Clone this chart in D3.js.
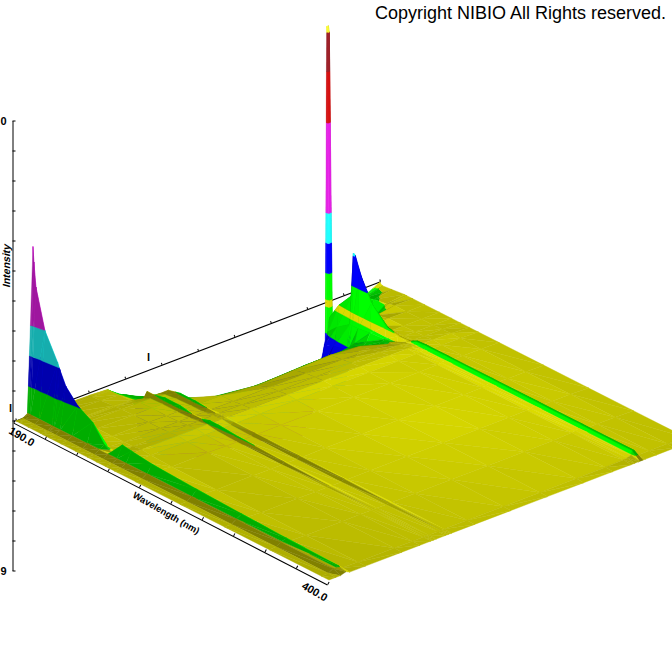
<!DOCTYPE html>
<html>
<head>
<meta charset="utf-8">
<title>Wavelength chromatogram</title>
<script src="https://cdn.jsdelivr.net/npm/d3@7"></script>
<style>
html, body { margin: 0; padding: 0; background: #fff; }
svg { display: block; }
text { font-family: "Liberation Sans", Arial, sans-serif; fill: #000; }
.axis path, .axis line { stroke: #000; stroke-width: 1; fill: none; }
.small { font-size: 11px; font-weight: bold; }
</style>
</head>
<body>
<div id="chart"></div>
<script>
// values
var wavelengths = [190, 190.6, 192, 198, 206.5, 208, 212, 220, 230, 238, 244, 250, 256, 270, 300, 330, 360, 395, 400];
var times = [0, 1.1, 1.9, 2.8, 3.4, 6, 12, 15, 16.8, 17.2, 17.7, 19.2, 19.7, 20.2, 24, 30, 36, 42, 46.8, 49.8, 50.4, 51, 51.2, 51.5, 51.7, 52.2, 54, 57, 60];
var intensity = [
  [0, 0, 0, 0, 0, 0, 0, 0, 0, 0, 0, 0, 0, 0, 0, 0, 0, 0, 0],
  [.001, .001, .001, .001, .001, .001, .001, .001, .001, .001, .001, .001, .001, .001, .001, .001, .001, .001, 0],
  [.011, .011, .011, .011, .011, .011, .011, .011, .011, .011, .011, .011, .011, .011, .011, .011, .011, .011, 0],
  [.56, .51, .43, .30, .215, .195, .15, .105, .075, .02, .005, .05, .045, .036, .028, .022, .017, .013, .006],
  [-.01, -.01, -.005, 0, .005, .006, .008, .01, .01, .008, .003, .009, .009, .008, .006, .005, .004, .002, 0],
  [-.005, -.005, -.003, 0, .002, .002, .003, .004, .005, .005, .006, .01, .006, .003, .002, .002, .002, .001, 0],
  [-.008, -.008, -.007, -.004, 0, 0, .002, .003, .004, .004, .006, .01, .005, .004, .003, .002, .001, .001, 0],
  [-.011, -.011, -.011, -.01, -.006, -.004, .001, .003, .003, .004, .006, .01, .005, .003, .002, .002, .002, .001, 0],
  [-.04, -.04, -.04, -.03, -.02, -.01, 0, .002, .002, .003, .006, .01, .005, .002, .002, .002, .002, .001, 0],
  [-.045, -.045, -.04, -.03, -.01, .011, .011, .02, .02, .012, .011, .02, .02, .014, .008, .004, .002, .001, 0],
  [-.05, -.05, -.045, -.035, -.02, -.01, 0, .002, .002, .003, .006, .01, .005, .002, .002, .002, .002, .001, 0],
  [-.08, -.08, -.07, -.05, -.025, -.012, -.005, 0, .002, .003, .007, .01, .005, .003, .002, .002, .002, .001, 0],
  [-.11, -.11, -.09, -.06, -.03, -.02, .006, .016, .016, .012, .009, .011, .01, .01, .009, .008, .005, .001, 0],
  [-.2, -.2, -.16, -.12, -.06, -.05, -.02, -.005, .002, .003, .007, .01, .005, .003, .002, .002, .002, .001, 0],
  [-.3, -.3, -.25, -.18, -.12, -.11, -.07, -.035, 0, .002, .005, .008, .005, .003, .003, .003, .002, .001, 0],
  [-.35, -.35, -.32, -.25, -.17, -.15, -.09, -.06, -.012, .002, .005, .008, .005, .003, .003, .003, .002, .001, 0],
  [-.36, -.36, -.32, -.25, -.17, -.15, -.09, -.055, -.008, .002, .005, .008, .005, .003, .003, .003, .002, .001, 0],
  [-.38, -.38, -.33, -.25, -.17, -.15, -.085, -.05, -.004, .002, .005, .008, .005, .003, .003, .003, .002, .001, 0],
  [-.42, -.42, -.34, -.25, -.16, -.14, -.09, -.05, -.012, -.002, .005, .008, .005, .004, .004, .004, .003, .002, 0],
  [-.3, -.3, -.2, -.15, -.125, -.12, -.08, -.06, -.03, -.008, .004, .008, .006, .005, .005, .005, .005, .004, 0],
  [-.18, -.18, -.13, -.12, -.11, -.105, -.075, -.05, -.025, -.006, .004, .008, .007, .007, .007, .007, .007, .006, 0],
  [-.12, -.14, -.09, -.06, -.03, -.03, -.03, -.025, -.02, -.01, .003, .009, .01, .01, .01, .01, .01, .009, 0],
  [.92, .90, -.045, .01, .063, .21, .153, .073, .02, .008, .006, .02, .022, .022, .022, .022, .022, .022, 0],
  [.92, .90, -.05, .005, .05, .2, .14, .06, .015, .006, .006, .02, .022, .022, .022, .022, .022, .022, 0],
  [-.2, -.2, -.15, -.08, -.01, .01, .006, .004, .002, .002, .004, .006, .004, .003, .003, .003, .003, .002, 0],
  [-.3, -.3, -.2, -.1, -.03, -.02, -.02, -.01, 0, .002, .004, .006, .004, .003, .003, .003, .002, .001, 0],
  [-.3, -.3, -.25, -.18, -.05, -.04, -.01, 0, .001, .002, .003, .005, .003, .002, .002, .002, .002, .001, 0],
  [-.03, -.03, -.025, -.015, -.008, -.005, 0, 0, .001, .001, .002, .004, .002, .002, .002, .002, .001, .001, 0],
  [0, -.005, -.008, -.005, 0, 0, 0, 0, 0, 0, 0, 0, 0, 0, 0, 0, 0, 0, 0]
];
var intensityTicks = [-.5, -.4, -.3, -.2, -.1, 0, .1, .2, .3, .4, .5, .6, .7, .8, .9, 1];
var wavelengthTicks = [190, 211, 232, 253, 274, 295, 316, 337, 358, 379, 400];
var timeTicks = [0, 6, 12, 18, 24, 30, 36, 42, 48, 54, 60];
var bandEdges = [-.6, -.3, -.2, -.1, -.012, .012, .1, .2, .3, .6, .77, .9, 1.2];
var bandColors = ["#e820e8", "#20ffff", "#0000ff", "#00ff00", "#ffff00", "#00ff00", "#0000ff", "#20ffff", "#e820e8", "#d81010", "#a02028", "#ffff30"];

var width = 672, height = 672;
var svg = d3.select("#chart").append("svg")
    .attr("width", width)
    .attr("height", height);

// oblique projection of the box, the front left corner sits at x0,y0
var x0 = 16, y0 = 421;
var wx = d3.scaleLinear().domain([190, 400]).range([0, 313]);
var wy = d3.scaleLinear().domain([190, 400]).range([0, 159]);
var tx = d3.scaleLinear().domain([0, 60]).range([0, 364]);
var ty = d3.scaleLinear().domain([0, 60]).range([0, -139]);
var iy = d3.scaleLinear().domain([-.5, 1]).range([150, -300]);

function project(w, t, z) {
    return [x0 + wx(w) + tx(t), y0 + wy(w) + ty(t) + iy(z)];
}

// axes first so the surface covers them
var iAxis = svg.append("g")
    .attr("class", "axis")
    .attr("transform", "translate(12.5,420.5)")
    .call(d3.axisLeft(iy).tickValues(intensityTicks).tickSizeInner(-3).tickSizeOuter(0).tickFormat(""));

var wLen = Math.hypot(313, 159) + 2;
var wAxis = svg.append("g")
    .attr("class", "axis")
    .attr("transform", "translate(13.5,422.5) rotate(" + (Math.atan2(162, 314) * 180 / Math.PI) + ")")
    .call(d3.axisTop(d3.scaleLinear().domain([190, 400]).range([0, wLen])).tickValues(wavelengthTicks).tickSize(3).tickSizeOuter(0).tickFormat(""));

var tLen = Math.hypot(364, 139);
var tAxis = svg.append("g")
    .attr("class", "axis")
    .attr("transform", "translate(16,420.5) rotate(" + (Math.atan2(-139, 364) * 180 / Math.PI) + ")")
    .call(d3.axisTop(d3.scaleLinear().domain([0, 60]).range([0, tLen])).tickValues(timeTicks).tickSize(2).tickSizeOuter(0).tickFormat(""));

// keep the part of a polygon on one side of a height
function clipZ(poly, level, above) {
    var out = [];
    poly.forEach(function (p, i) {
        var q = poly[(i + 1) % poly.length];
        var pIn = above ? p[2] >= level : p[2] <= level;
        var qIn = above ? q[2] >= level : q[2] <= level;
        if (pIn) out.push(p);
        if (pIn !== qIn) {
            var f = (level - p[2]) / (q[2] - p[2]);
            out.push([p[0] + f * (q[0] - p[0]), p[1] + f * (q[1] - p[1]), level]);
        }
    });
    return out;
}

// light hangs over the middle of the plate
var lightW = 310, lightT = 39;
function shadeOf(tri, band) {
    var a = tri.map(function (p) { return [wx(p[0]) * 1.1, tx(p[1]) * 1.07, -iy(p[2])]; });
    var u = [a[1][0] - a[0][0], a[1][1] - a[0][1], a[1][2] - a[0][2]];
    var v = [a[2][0] - a[0][0], a[2][1] - a[0][1], a[2][2] - a[0][2]];
    var n = [u[1] * v[2] - u[2] * v[1], u[2] * v[0] - u[0] * v[2], u[0] * v[1] - u[1] * v[0]];
    if (n[2] < 0) n = n.map(function (d) { return -d; });
    var len = Math.hypot(n[0], n[1], n[2]) || 1;
    var cx = d3.mean(a, function (d) { return d[0]; });
    var cy = d3.mean(a, function (d) { return d[1]; });
    var lx = wx(lightW) * 1.1 - cx, ly = tx(lightT) * 1.07 - cy;
    var dist = Math.hypot(lx, ly) || 1;
    var s = 0.84 - 0.0005 * dist + 0.5 * (n[0] * lx + n[1] * ly) / (len * dist);
    var isYellow = bandColors[band] === "#ffff00";
    return Math.max(isYellow ? 0.5 : 0.68, Math.min(isYellow ? 0.86 : 1, s));
}

var facets = [];
function addTriangle(tri) {
    for (var b = 0; b < bandColors.length; b++) {
        var poly = clipZ(clipZ(tri, bandEdges[b], true), bandEdges[b + 1], false);
        if (poly.length < 3) continue;
        var c = d3.rgb(bandColors[b]);
        var s = shadeOf(tri, b);
        facets.push({ poly: poly, color: d3.rgb(c.r * s, c.g * s, c.b * s).formatHex() });
    }
}

// back to front, far time rows first, low wavelengths first
for (var j = times.length - 2; j >= 0; j--) {
    for (var i = 0; i < wavelengths.length - 1; i++) {
        var pa = [wavelengths[i], times[j + 1], intensity[j + 1][i]];
        var pb = [wavelengths[i + 1], times[j + 1], intensity[j + 1][i + 1]];
        var pc = [wavelengths[i], times[j], intensity[j][i]];
        var pd = [wavelengths[i + 1], times[j], intensity[j][i + 1]];
        addTriangle([pa, pb, pc]);
        addTriangle([pb, pd, pc]);
    }
}

var line = d3.line()
    .x(function (d) { return project(d[0], d[1], d[2])[0]; })
    .y(function (d) { return project(d[0], d[1], d[2])[1]; })
    .curve(d3.curveLinearClosed);

svg.append("g")
    .selectAll("path")
    .data(facets)
    .join("path")
    .attr("d", function (d) { return line(d.poly); })
    .attr("fill", function (d) { return d.color; })
    .attr("stroke", function (d) { return d.color; })
    .attr("stroke-width", 0.4);

// texts
svg.append("text")
    .attr("x", 375).attr("y", 19)
    .style("font-size", "18px")
    .text("Copyright NIBIO All Rights reserved.");

svg.append("text").attr("class", "small").attr("x", 0.5).attr("y", 124.5).text("0");
svg.append("text").attr("class", "small").attr("x", 0.5).attr("y", 575).text("9");
svg.append("text").attr("class", "small").attr("transform", "translate(9,412)").text("l");
svg.append("text").attr("class", "small").attr("transform", "translate(147,361)").text("l");

svg.append("text").attr("class", "small")
    .attr("transform", "translate(10,288) rotate(-90) skewX(-15)")
    .style("font-size", "10.5px")
    .text("Intensity");
svg.append("text").attr("class", "small")
    .attr("transform", "translate(8,433) rotate(30)")
    .text("190.0");
svg.append("text").attr("class", "small")
    .attr("transform", "translate(301,588) rotate(30)")
    .text("400.0");
svg.append("text").attr("class", "small")
    .attr("transform", "translate(132,497) rotate(30)")
    .style("font-size", "9.4px")
    .text("Wavelength (nm)");
</script>
</body>
</html>
